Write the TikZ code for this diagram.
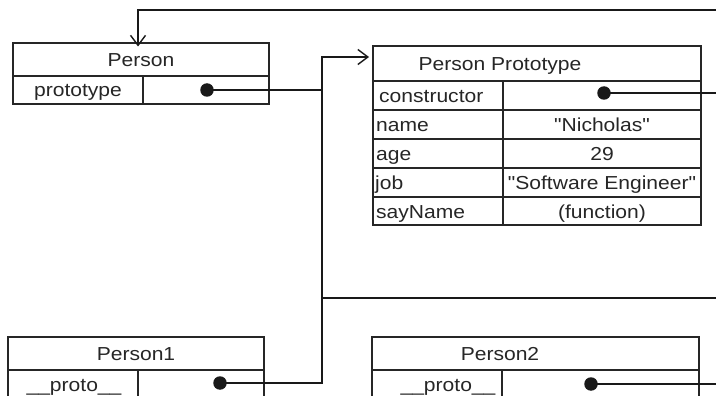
\documentclass[tikz,border=0pt]{standalone}
\usepackage{fontspec}
\setmainfont{Liberation Sans}[FakeStretch=1.12,Ligatures=TeXOff]
\usetikzlibrary{arrows.meta}
\begin{document}
\begin{tikzpicture}[x=1pt,y=-1pt,
  box/.style={draw=black!85,line width=1.3pt},
  conn/.style={draw=black!90,line width=1.6pt},
  txt/.style={inner sep=0pt,text height=15.5pt,text depth=2pt,font=\fontsize{18.8}{21}\selectfont,text=black!85},
  dot/.style={circle,fill=black!90,inner sep=0pt,minimum size=13.5pt},
  arr/.style={-{Straight Barb[length=10pt,width=15pt,line width=1.4pt]}}
]
\clip (0,0) rectangle (716,396);
\fill[white] (0,0) rectangle (716,396);
% Person
\draw[box] (13,43) rectangle (269,104);
\draw[box] (13,76) -- (269,76) (143,76) -- (143,104);
\node[txt] (pt) at (141,60) {Person};
\node[txt] (pp) at (78,90) {prototype};
\node[dot] (d0) at (207,90) {};
% Prototype
\draw[box] (373,46) rectangle (701,225);
\draw[box] (373,81) -- (701,81) (373,110) -- (701,110) (373,139) -- (701,139)
  (373,168) -- (701,168) (373,197) -- (701,197) (503,81) -- (503,225);
\node[txt] (ppt) at (500,63.5) {Person Prototype};
\node[txt,anchor=west] (k1) at (379,95.5) {constructor};
\node[txt,anchor=west] (k2) at (376,124.5) {name};
\node[txt,anchor=west] (k3) at (376,153.5) {age};
\node[txt,anchor=west] (k4) at (375,182.5) {job};
\node[txt,anchor=west] (k5) at (376,211.5) {sayName};
\node[dot] (d1) at (604,93) {};
\node[txt] (v2) at (602,124.5) {"Nicholas"};
\node[txt] (v3) at (602,153.5) {29};
\node[txt] (v4) at (602,182.5) {"Software Engineer"};
\node[txt] (v5) at (602,211.5) {(function)};
% Person1
\draw[box] (8,337) rectangle (264,420);
\draw[box] (8,370) -- (264,370) (138,370) -- (138,420);
\node[txt] (p1t) at (136,353.5) {Person1};
\node[txt] (p1p) at (74,385) {\_\_proto\_\_};
\node[dot] (d2) at (220,383) {};
% Person2
\draw[box] (372,337) rectangle (699,420);
\draw[box] (372,370) -- (699,370) (502,370) -- (502,420);
\node[txt] (p2t) at (500,353.5) {Person2};
\node[txt] (p2p) at (448,385) {\_\_proto\_\_};
\node[dot] (d3) at (591,384) {};
% coordinates
\coordinate (j1) at (322,90);
\coordinate (pin) at (373,57);
\coordinate (ptop) at (138,43);
% connectors
\draw[conn,arr] (d2.center) -- (322,383) -- (322,57) -- ([xshift=-4pt]pin);
\draw[conn] (d0.center) -- (j1);
\draw[conn,arr] (d1.center) -- (740,93) -- (740,10) -- (138,10) -- ([yshift=-3.5pt]ptop);
\draw[conn] (d3.center) -- (740,384) -- (740,298) -- (322,298);
\end{tikzpicture}
\end{document}
